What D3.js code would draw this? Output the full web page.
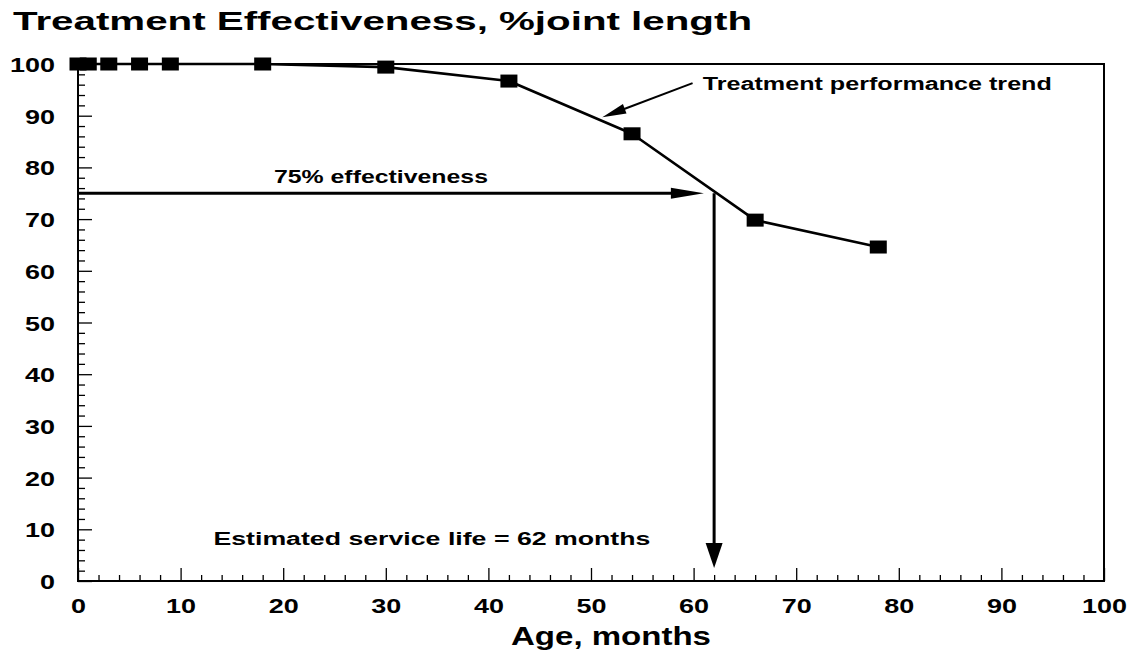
<!DOCTYPE html>
<html>
<head>
<meta charset="utf-8">
<script src="https://cdn.jsdelivr.net/npm/d3@7/dist/d3.min.js"></script>
<style>
  html, body { margin: 0; padding: 0; background: #ffffff; }
  svg { display: block; }
  text { font-family: "Liberation Sans", Arial, sans-serif; font-weight: bold; fill: #000; }
</style>
</head>
<body>
<svg id="chart" width="1129" height="656"></svg>
<script>
// ---- data ----
const ages = [0, 1, 3, 6, 9, 18, 30, 42, 54, 66, 78];
const effectiveness = [100, 100, 100, 100, 100, 100, 99.4, 96.7, 86.5, 69.8, 64.6];
const xTickValues = [0, 10, 20, 30, 40, 50, 60, 70, 80, 90, 100];
const yTickValues = [0, 10, 20, 30, 40, 50, 60, 70, 80, 90, 100];
const minorStep = 2;
const threshold = 75;          // % effectiveness
const serviceLife = 62;        // months
const thresholdArrowTip = 61;  // months
const serviceArrowTip = 2.5;   // %
const trendArrowFrom = [59.9, 96.3];
const trendArrowTo = [51.1, 89.7];
const titleText = "Treatment Effectiveness, %joint length";
const xAxisTitle = "Age, months";
const labelThreshold = "75% effectiveness";
const labelTrend = "Treatment performance trend";
const labelLife = "Estimated service life = 62 months";
const labelThresholdPos = [19.1, 77.0];
const labelTrendPos = [60.9, 95.0];
const labelLifePos = [13.2, 7.0];

// ---- layout ----
const svg = d3.select("#chart");
const x = d3.scaleLinear().domain([0, 100]).range([78, 1104]);
const y = d3.scaleLinear().domain([0, 100]).range([581, 64]);

// frame
svg.append("rect")
  .attr("x", x(0)).attr("y", y(100))
  .attr("width", x(100) - x(0)).attr("height", y(0) - y(100))
  .attr("fill", "none").attr("stroke", "#000").attr("stroke-width", 2);

// minor ticks
const minors = d3.range(0, 100 + 1e-9, minorStep).filter(v => v % 10 !== 0);
const xAxisMinor = d3.axisBottom(x).tickValues(minors).tickSize(-6).tickFormat("");
const yAxisMinor = d3.axisLeft(y).tickValues(minors).tickSize(-7).tickFormat("");
const gxm = svg.append("g").attr("transform", `translate(0,${y(0)})`).call(xAxisMinor);
const gym = svg.append("g").attr("transform", `translate(${x(0)},0)`).call(yAxisMinor);
[gxm, gym].forEach(g => {
  g.select(".domain").remove();
  g.selectAll("line").attr("stroke", "#000").attr("stroke-width", 1.3);
});

// major ticks + labels
const xAxis = d3.axisBottom(x).tickValues(xTickValues).tickSize(-13).tickPadding(0).tickFormat(d3.format("d"));
const yAxis = d3.axisLeft(y).tickValues(yTickValues).tickSize(-14).tickPadding(0).tickFormat(d3.format("d"));
const gx = svg.append("g").attr("transform", `translate(0,${y(0)})`).call(xAxis);
const gy = svg.append("g").attr("transform", `translate(${x(0)},0)`).call(yAxis);
[gx, gy].forEach(g => {
  g.select(".domain").remove();
  g.selectAll("line").attr("stroke", "#000").attr("stroke-width", 1.3);
  g.selectAll("text")
    .style("font-family", "'Liberation Sans', Arial, sans-serif")
    .style("font-weight", "bold")
    .style("font-size", "21px")
    .attr("fill", "#000")
    .attr("lengthAdjust", "spacingAndGlyphs")
    .attr("textLength", d => String(d).length * 15);
});
gx.selectAll("text").attr("y", 32).attr("dy", 0);
gy.selectAll("text").attr("x", -23).attr("dy", "0.36em");

// data line
const line = d3.line().x((d, i) => x(ages[i])).y(d => y(d));
svg.append("path")
  .datum(effectiveness)
  .attr("d", line)
  .attr("fill", "none").attr("stroke", "#000").attr("stroke-width", 2.6)
  .attr("stroke-linejoin", "round");

// markers
const mw = 17, mh = 13;
svg.append("g").selectAll("rect").data(effectiveness).join("rect")
  .attr("x", (d, i) => x(ages[i]) - mw / 2)
  .attr("y", d => y(d) - mh / 2)
  .attr("width", mw).attr("height", mh)
  .attr("fill", "#000");

// arrow helper
function arrow(x1, y1, x2, y2, sw, headLen, headHalf) {
  const dx = x2 - x1, dy = y2 - y1, len = Math.hypot(dx, dy);
  const ux = dx / len, uy = dy / len;
  const bx = x2 - ux * headLen, by = y2 - uy * headLen;
  svg.append("line")
    .attr("x1", x1).attr("y1", y1).attr("x2", bx + ux * 2).attr("y2", by + uy * 2)
    .attr("stroke", "#000").attr("stroke-width", sw);
  const pts = [[x2, y2], [bx - uy * headHalf, by + ux * headHalf], [bx + uy * headHalf, by - ux * headHalf]];
  svg.append("path").attr("d", "M" + pts.map(p => p.join(",")).join("L") + "Z").attr("fill", "#000");
}

// 75% threshold arrow (horizontal)
arrow(x(0), y(threshold), x(thresholdArrowTip), y(threshold), 3, 33, 5.5);
// service life arrow (vertical)
arrow(x(serviceLife), y(threshold), x(serviceLife), y(serviceArrowTip), 3, 25, 8.5);
// trend arrow
arrow(x(trendArrowFrom[0]), y(trendArrowFrom[1]), x(trendArrowTo[0]), y(trendArrowTo[1]), 2, 24, 5);

// annotation labels
function label(txt, pos, size, len) {
  svg.append("text")
    .attr("x", x(pos[0])).attr("y", y(pos[1]))
    .style("font-size", size + "px")
    .attr("textLength", len).attr("lengthAdjust", "spacingAndGlyphs")
    .text(txt);
}
label(labelThreshold, labelThresholdPos, 18, 214);
label(labelTrend, labelTrendPos, 18, 349);
label(labelLife, labelLifePos, 18, 437);

// title
svg.append("text")
  .attr("x", 13).attr("y", 30)
  .style("font-size", "25px")
  .attr("textLength", 739).attr("lengthAdjust", "spacingAndGlyphs")
  .text(titleText);

// x axis title
svg.append("text")
  .attr("x", (x(0) + x(100)) / 2 + 20).attr("y", 645)
  .attr("text-anchor", "middle")
  .style("font-size", "25px")
  .attr("textLength", 200).attr("lengthAdjust", "spacingAndGlyphs")
  .text(xAxisTitle);
</script>
</body>
</html>
